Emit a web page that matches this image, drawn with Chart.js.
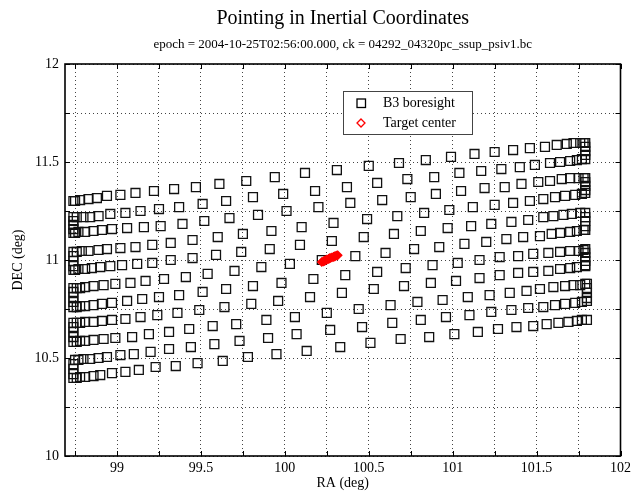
<!DOCTYPE html>
<html>
<head>
<meta charset="utf-8">
<title>Pointing in Inertial Coordinates</title>
<script src="https://cdn.jsdelivr.net/npm/chart.js@4.4.0/dist/chart.umd.min.js"></script>
<style>
  html, body { margin: 0; padding: 0; background: #fff; }
  #wrap { width: 635px; height: 493px; }
</style>
</head>
<body>
<div id="wrap"><canvas id="pointing" width="635" height="493"></canvas></div>
<script>
// text
const titleText = 'Pointing in Inertial Coordinates';
const subtitleText = 'epoch = 2004-10-25T02:56:00.000, ck = 04292_04320pc_ssup_psiv1.bc';

// axes
const xGridValues = [98.75, 99, 99.25, 99.5, 99.75, 100, 100.25, 100.5, 100.75, 101, 101.25, 101.5, 101.75, 102];
const xTickLabels = { 99: '99', 99.5: '99.5', 100: '100', 100.5: '100.5', 101: '101', 101.5: '101.5', 102: '102' };
const yGridValues = [10, 10.25, 10.5, 10.75, 11, 11.25, 11.5, 11.75, 12];
const yTickLabels = { 10: '10', 10.5: '10.5', 11: '11', 11.5: '11.5', 12: '12' };

// B3 boresight scan rows (RA / DEC in deg), each row incl. its turnaround
const raRow01 = [98.74, 98.75, 98.78, 98.83, 98.88, 98.94, 99.02, 99.11, 99.22, 99.34, 99.47, 99.61, 99.77, 99.94, 100.12, 100.31, 100.50, 100.68, 100.84, 100.99, 101.13, 101.25, 101.36, 101.46, 101.55, 101.62, 101.68, 101.72, 101.76, 101.78, 101.79, 101.79, 101.79, 101.79];
const decRow01 = [11.301, 11.301, 11.306, 11.311, 11.316, 11.327, 11.332, 11.342, 11.352, 11.362, 11.372, 11.388, 11.403, 11.423, 11.444, 11.459, 11.480, 11.495, 11.510, 11.526, 11.541, 11.551, 11.561, 11.571, 11.577, 11.587, 11.592, 11.597, 11.597, 11.597, 11.597, 11.577, 11.556, 11.536];

const raRow02 = [101.79, 101.77, 101.74, 101.70, 101.64, 101.58, 101.49, 101.40, 101.29, 101.17, 101.04, 100.89, 100.73, 100.55, 100.37, 100.18, 99.99, 99.81, 99.65, 99.51, 99.37, 99.25, 99.14, 99.05, 98.96, 98.89, 98.84, 98.80, 98.76, 98.74, 98.74, 98.74, 98.74];
const decRow02 = [11.515, 11.515, 11.510, 11.505, 11.500, 11.495, 11.485, 11.474, 11.464, 11.454, 11.444, 11.423, 11.413, 11.393, 11.372, 11.352, 11.337, 11.321, 11.301, 11.286, 11.270, 11.260, 11.250, 11.240, 11.235, 11.224, 11.219, 11.219, 11.219, 11.219, 11.199, 11.179, 11.158];

const raRow03 = [98.74, 98.75, 98.77, 98.81, 98.86, 98.91, 98.97, 99.06, 99.16, 99.26, 99.39, 99.52, 99.67, 99.84, 100.01, 100.20, 100.39, 100.58, 100.75, 100.90, 101.05, 101.19, 101.31, 101.41, 101.51, 101.58, 101.65, 101.70, 101.75, 101.78, 101.79, 101.79, 101.79, 101.79];
const decRow03 = [11.138, 11.138, 11.143, 11.143, 11.148, 11.153, 11.158, 11.163, 11.168, 11.173, 11.184, 11.199, 11.214, 11.230, 11.250, 11.270, 11.291, 11.306, 11.321, 11.337, 11.352, 11.367, 11.372, 11.388, 11.398, 11.403, 11.413, 11.418, 11.418, 11.418, 11.418, 11.398, 11.378, 11.357];

const raRow04 = [101.79, 101.77, 101.73, 101.67, 101.61, 101.54, 101.46, 101.36, 101.25, 101.12, 100.98, 100.83, 100.67, 100.49, 100.29, 100.10, 99.92, 99.75, 99.60, 99.45, 99.32, 99.21, 99.11, 99.02, 98.94, 98.89, 98.83, 98.79, 98.76, 98.74, 98.74, 98.74, 98.74];
const decRow04 = [11.342, 11.337, 11.332, 11.327, 11.321, 11.311, 11.301, 11.291, 11.281, 11.270, 11.255, 11.240, 11.224, 11.209, 11.189, 11.168, 11.148, 11.133, 11.117, 11.102, 11.087, 11.077, 11.066, 11.061, 11.056, 11.051, 11.046, 11.046, 11.041, 11.041, 11.020, 10.995, 10.969];

const raRow05 = [98.74, 98.75, 98.77, 98.81, 98.85, 98.90, 98.96, 99.03, 99.12, 99.21, 99.32, 99.45, 99.59, 99.74, 99.91, 100.09, 100.28, 100.47, 100.65, 100.81, 100.97, 101.11, 101.23, 101.35, 101.45, 101.54, 101.60, 101.66, 101.71, 101.76, 101.79, 101.79, 101.79, 101.79];
const decRow05 = [10.949, 10.949, 10.954, 10.954, 10.959, 10.964, 10.969, 10.974, 10.980, 10.985, 11.000, 11.010, 11.026, 11.041, 11.056, 11.077, 11.097, 11.117, 11.133, 11.148, 11.163, 11.173, 11.184, 11.194, 11.204, 11.219, 11.224, 11.230, 11.235, 11.240, 11.240, 11.219, 11.199, 11.173];

const raRow06 = [101.79, 101.78, 101.74, 101.70, 101.64, 101.59, 101.52, 101.42, 101.32, 101.20, 101.07, 100.92, 100.77, 100.60, 100.42, 100.22, 100.03, 99.86, 99.70, 99.54, 99.41, 99.28, 99.17, 99.08, 98.99, 98.92, 98.86, 98.81, 98.78, 98.76, 98.74, 98.74, 98.74, 98.74];
const decRow06 = [11.153, 11.153, 11.148, 11.143, 11.138, 11.133, 11.122, 11.117, 11.107, 11.092, 11.082, 11.066, 11.056, 11.036, 11.020, 11.000, 10.980, 10.964, 10.944, 10.929, 10.913, 10.903, 10.893, 10.883, 10.878, 10.872, 10.867, 10.862, 10.857, 10.857, 10.857, 10.837, 10.811, 10.786];

const raRow07 = [98.74, 98.76, 98.78, 98.81, 98.86, 98.91, 98.97, 99.06, 99.15, 99.25, 99.37, 99.51, 99.65, 99.81, 99.98, 100.17, 100.36, 100.55, 100.72, 100.88, 101.03, 101.16, 101.28, 101.39, 101.48, 101.57, 101.64, 101.70, 101.75, 101.78, 101.79, 101.79, 101.79, 101.79];
const decRow07 = [10.760, 10.760, 10.765, 10.765, 10.770, 10.776, 10.781, 10.791, 10.801, 10.811, 10.821, 10.837, 10.852, 10.867, 10.883, 10.903, 10.923, 10.939, 10.959, 10.974, 10.985, 11.000, 11.015, 11.020, 11.031, 11.036, 11.041, 11.046, 11.046, 11.051, 11.056, 11.036, 11.015, 10.995];

const raRow08 = [101.79, 101.79, 101.74, 101.70, 101.64, 101.57, 101.48, 101.39, 101.28, 101.16, 101.02, 100.87, 100.71, 100.53, 100.34, 100.15, 99.96, 99.80, 99.64, 99.49, 99.36, 99.24, 99.14, 99.05, 98.97, 98.91, 98.86, 98.81, 98.78, 98.76, 98.74, 98.74, 98.74, 98.74];
const decRow08 = [10.974, 10.969, 10.964, 10.959, 10.954, 10.944, 10.939, 10.934, 10.923, 10.908, 10.893, 10.883, 10.867, 10.852, 10.832, 10.811, 10.791, 10.776, 10.760, 10.745, 10.730, 10.719, 10.709, 10.699, 10.694, 10.689, 10.684, 10.684, 10.679, 10.679, 10.679, 10.658, 10.633, 10.607];

const raRow09 = [98.74, 98.76, 98.78, 98.81, 98.86, 98.92, 98.99, 99.09, 99.19, 99.31, 99.43, 99.57, 99.71, 99.89, 100.06, 100.25, 100.44, 100.63, 100.79, 100.94, 101.09, 101.22, 101.34, 101.44, 101.52, 101.60, 101.67, 101.72, 101.76, 101.79, 101.80, 101.80, 101.80, 101.80];
const decRow09 = [10.582, 10.582, 10.587, 10.587, 10.592, 10.597, 10.602, 10.607, 10.622, 10.633, 10.648, 10.663, 10.673, 10.694, 10.709, 10.730, 10.750, 10.770, 10.786, 10.796, 10.811, 10.821, 10.832, 10.842, 10.852, 10.862, 10.867, 10.872, 10.872, 10.878, 10.878, 10.857, 10.832, 10.806];

const raRow10 = [101.80, 101.77, 101.73, 101.67, 101.61, 101.54, 101.45, 101.35, 101.23, 101.10, 100.96, 100.81, 100.64, 100.46, 100.27, 100.07, 99.90, 99.73, 99.58, 99.44, 99.31, 99.20, 99.10, 99.02, 98.94, 98.89, 98.84, 98.80, 98.77, 98.75, 98.74, 98.74, 98.74];
const decRow10 = [10.791, 10.786, 10.781, 10.776, 10.770, 10.760, 10.755, 10.745, 10.735, 10.719, 10.709, 10.694, 10.679, 10.658, 10.643, 10.622, 10.602, 10.587, 10.571, 10.556, 10.546, 10.531, 10.520, 10.515, 10.505, 10.500, 10.495, 10.495, 10.490, 10.490, 10.469, 10.444, 10.418];

const raRow11 = [98.74, 98.76, 98.78, 98.81, 98.86, 98.90, 98.97, 99.05, 99.13, 99.23, 99.35, 99.48, 99.63, 99.78, 99.95, 100.13, 100.33, 100.51, 100.69, 100.86, 101.01, 101.15, 101.27, 101.38, 101.48, 101.56, 101.63, 101.69, 101.74, 101.77, 101.80];
const decRow11 = [10.398, 10.398, 10.403, 10.403, 10.408, 10.413, 10.423, 10.429, 10.439, 10.454, 10.459, 10.474, 10.485, 10.505, 10.520, 10.536, 10.556, 10.577, 10.597, 10.607, 10.622, 10.633, 10.648, 10.658, 10.663, 10.673, 10.679, 10.684, 10.689, 10.694, 10.694];

// target center track
const targetRa = [100.22, 100.23, 100.235, 100.24, 100.25, 100.26, 100.265, 100.27, 100.28, 100.29, 100.295, 100.30, 100.31, 100.315];
const targetDec = [10.990, 10.993, 10.995, 10.998, 11.002, 11.005, 11.008, 11.010, 11.013, 11.016, 11.018, 11.020, 11.023, 11.024];

const scanRows = [
  [raRow01, decRow01], [raRow02, decRow02], [raRow03, decRow03], [raRow04, decRow04],
  [raRow05, decRow05], [raRow06, decRow06], [raRow07, decRow07], [raRow08, decRow08],
  [raRow09, decRow09], [raRow10, decRow10], [raRow11, decRow11]
];
const boresightPts = [];
scanRows.forEach(([ra, dec]) => ra.forEach((x, i) => boresightPts.push({ x: x, y: dec[i] })));
const targetPts = targetRa.map((x, i) => ({ x: x, y: targetDec[i] }));

const SERIF = '"Liberation Serif", "DejaVu Serif", serif';

// frame, inward ticks, title and in-plot legend
const frameAndText = {
  id: 'frameAndText',
  afterDraw(chart) {
    const { ctx, chartArea: a, scales } = chart;
    ctx.save();
    ctx.strokeStyle = '#000';
    ctx.lineWidth = 1;
    ctx.beginPath();
    xGridValues.forEach(v => {
      const px = Math.round(scales.x.getPixelForValue(v)) + 0.5;
      ctx.moveTo(px, a.bottom); ctx.lineTo(px, a.bottom - 5);
      ctx.moveTo(px, a.top); ctx.lineTo(px, a.top + 5);
    });
    yGridValues.forEach(v => {
      const py = Math.round(scales.y.getPixelForValue(v)) + 0.5;
      ctx.moveTo(a.left, py); ctx.lineTo(a.left + 5, py);
      ctx.moveTo(a.right, py); ctx.lineTo(a.right - 5, py);
    });
    ctx.stroke();

    ctx.lineWidth = 1.6;
    ctx.strokeRect(a.left, a.top, a.right - a.left, a.bottom - a.top);

    const cx = (a.left + a.right) / 2;
    ctx.fillStyle = '#000';
    ctx.textAlign = 'center';
    ctx.textBaseline = 'middle';
    ctx.font = '20px ' + SERIF;
    ctx.fillText(titleText, cx, 19);
    ctx.font = '13px ' + SERIF;
    ctx.fillText(subtitleText, cx, 45);

    // legend box
    const bx = 343, by = 91, bw = 129, bh = 43;
    ctx.fillStyle = '#fff';
    ctx.fillRect(bx, by, bw, bh);
    ctx.strokeStyle = '#444';
    ctx.lineWidth = 1;
    ctx.strokeRect(bx + 0.5, by + 0.5, bw, bh);
    ctx.strokeStyle = '#000';
    ctx.lineWidth = 1.3;
    ctx.strokeRect(357, 99, 8.5, 8.5);
    ctx.strokeStyle = '#f00';
    ctx.beginPath();
    ctx.moveTo(361, 119); ctx.lineTo(365, 123); ctx.lineTo(361, 127); ctx.lineTo(357, 123); ctx.closePath();
    ctx.stroke();
    ctx.fillStyle = '#000';
    ctx.textAlign = 'left';
    ctx.font = '14px ' + SERIF;
    ctx.fillText('B3 boresight', 383, 103);
    ctx.fillText('Target center', 383, 123);
    ctx.restore();
  }
};

new Chart(document.getElementById('pointing'), {
  type: 'scatter',
  data: {
    datasets: [
      {
        label: 'Target center',
        data: targetPts,
        pointStyle: 'rectRot',
        pointRadius: 4,
        borderColor: '#f00',
        backgroundColor: '#f00',
        borderWidth: 1.5
      },
      {
        label: 'B3 boresight',
        data: boresightPts,
        pointStyle: 'rect',
        pointRadius: 6.3,
        borderColor: '#111',
        backgroundColor: 'rgba(0,0,0,0)',
        borderWidth: 1.3
      }
    ]
  },
  options: {
    responsive: false,
    animation: false,
    devicePixelRatio: 1,
    events: [],
    layout: { padding: { top: 64, right: 10, bottom: 0, left: 0 } },
    plugins: { legend: { display: false }, tooltip: { enabled: false } },
    scales: {
      x: {
        type: 'linear',
        min: 98.69,
        max: 102,
        afterBuildTicks: s => { s.ticks = xGridValues.map(v => ({ value: v })); },
        afterFit: s => { s.height = 37; },
        grid: { color: '#444', lineWidth: 1, drawTicks: false },
        border: { display: false, dash: [1, 3] },
        ticks: {
          autoSkip: false, maxRotation: 0, padding: 4, color: '#000',
          font: { family: SERIF, size: 14 },
          callback: v => xTickLabels[v] || ''
        },
        title: {
          display: true, text: 'RA (deg)', color: '#000',
          font: { family: SERIF, size: 14 }, padding: { top: 0, bottom: 1 }
        }
      },
      y: {
        type: 'linear',
        min: 10,
        max: 12,
        afterBuildTicks: s => { s.ticks = yGridValues.map(v => ({ value: v })); },
        afterFit: s => { s.width = 65; },
        grid: { color: '#444', lineWidth: 1, drawTicks: false },
        border: { display: false, dash: [1, 3] },
        ticks: {
          autoSkip: false, padding: 6, color: '#000',
          font: { family: SERIF, size: 14 },
          callback: v => yTickLabels[v] || ''
        },
        title: {
          display: true, text: 'DEC (deg)', color: '#000',
          font: { family: SERIF, size: 14 }, padding: { top: 10, bottom: 0 }
        }
      }
    }
  },
  plugins: [frameAndText]
});
</script>
</body>
</html>
